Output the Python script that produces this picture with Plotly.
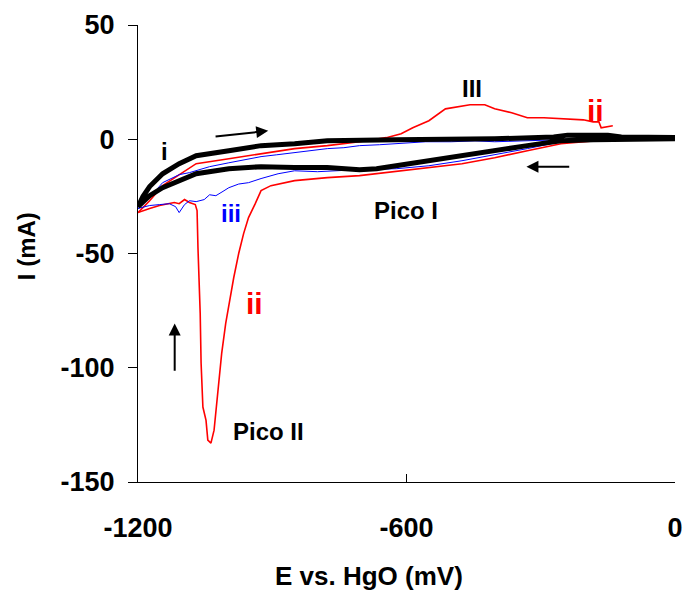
import plotly.graph_objects as go

# Cyclic voltammograms, potential E (mV vs. HgO) and current I (mA)
# Curve i (black): forward sweep -1200 -> 0, then return 0 -> -1200
e_i_fwd = [-1200, -1189, -1174, -1145, -1108, -1070, -997, -925, -850, -777,
           -623, -403, -271, -240, -150, -120, 0]
i_i_fwd = [-29.5, -25.1, -20.7, -15.1, -10.7, -7.2, -5.0, -2.8, -2.0, -0.7,
           -0.2, 0.2, 1.0, 1.8, 1.8, 1.0, 0.8]
e_i_rev = [0, -183, -255, -330, -403, -476, -550, -623, -667, -705, -777,
           -850, -925, -997, -1070, -1145, -1174, -1200]
i_i_rev = [0.2, -0.2, -0.7, -2.8, -5.0, -7.2, -9.4, -11.6, -12.9, -13.3, -12.4,
           -12.4, -12.0, -12.9, -15.1, -21.2, -24.7, -29.5]

# Curve ii (red)
e_ii_fwd = [-1200, -1174, -1145, -1070, -997, -925, -850, -777, -705, -645,
            -612, -586, -550, -513, -476, -458, -425, -403, -365, -330, -293,
            -255, -205, -183, -170, -165, -152, -139]
i_ii_fwd = [-32.1, -26.9, -20.3, -10.7, -8.5, -6.3, -4.1, -2.8, -1.1, 0.7,
            2.4, 5.0, 8.1, 13.3, 14.6, 15.1, 15.1, 13.3, 11.6, 9.4, 9.4,
            9.0, 8.5, 7.6, 7.6, 5.0, 5.5, 5.9]
e_ii_rev = [-2, -73, -183, -255, -330, -403, -476, -550, -623, -705, -777,
            -850, -903, -925, -938, -953, -964, -975, -986, -997, -1004,
            -1013, -1019, -1026, -1030, -1037, -1044, -1048, -1055, -1059,
            -1061, -1066, -1068, -1072, -1085, -1096, -1108, -1119, -1152,
            -1174, -1200]
i_ii_rev = [-0.2, -0.2, -0.7, -2.0, -5.0, -8.1, -10.7, -12.4, -14.2, -15.9,
            -16.8, -18.1, -20.3, -22.5, -28.2, -34.3, -41.3, -50.0, -60.5,
            -71.8, -80.6, -93.7, -105.5, -119.9, -127.3, -133.0, -131.7,
            -123.0, -117.2, -98.0, -76.2, -47.4, -31.2, -28.6, -27.7, -26.4,
            -28.2, -27.7, -29.0, -30.3, -32.1]

# Curve iii (blue)
e_iii_fwd = [-1200, -1174, -1145, -1108, -1085, -1070, -1040, -997, -960,
             -925, -890, -850, -815, -777, -740, -705, -660, -623, -557, -500,
             -447, -403, -330, -255, -205, -145, -95, -2]
i_iii_fwd = [-30.3, -25.5, -19.0, -15.5, -14.6, -13.8, -12.0, -10.3, -9.0,
             -7.6, -6.8, -5.9, -5.0, -4.1, -3.7, -2.8, -2.4, -2.0, -1.1, -1.1,
             -0.7, -1.1, -0.7, -0.2, 0.7, 1.5, 0.7, 0.2]
e_iii_rev = [-2, -183, -255, -330, -403, -476, -550, -623, -705, -755, -799,
             -850, -887, -925, -953, -975, -997, -1010, -1026, -1040, -1052,
             -1070, -1085, -1096, -1108, -1116, -1130, -1152, -1174, -1200]
i_iii_rev = [0.2, -0.2, -1.1, -4.1, -6.8, -9.4, -11.6, -12.9, -13.3, -13.8,
             -14.2, -13.8, -15.1, -17.2, -19.0, -19.6, -21.2, -22.8, -24.7,
             -24.3, -26.4, -27.3, -26.9, -28.6, -32.1, -29.5, -28.2, -28.6,
             -29.0, -30.3]

FONT = "Liberation Sans"

fig = go.Figure()
fig.add_trace(go.Scatter(x=e_ii_fwd + [None] + e_ii_rev,
                         y=i_ii_fwd + [None] + i_ii_rev,
                         mode="lines", line=dict(color="#ff0000", width=1.6)))
fig.add_trace(go.Scatter(x=e_iii_fwd + e_iii_rev, y=i_iii_fwd + i_iii_rev,
                         mode="lines", line=dict(color="#0000ff", width=1.0)))
fig.add_trace(go.Scatter(x=e_i_fwd + e_i_rev, y=i_i_fwd + i_i_rev,
                         mode="lines", line=dict(color="black", width=5)))


def label(x, y, text, color="black", size=24):
    fig.add_annotation(x=x, y=y, text=text, showarrow=False,
                       font=dict(family=FONT, size=size, color=color,
                                 weight="bold"))


def arrow(x0, y0, x1, y1):
    fig.add_annotation(x=x1, y=y1, ax=x0, ay=y0, xref="x", yref="y",
                       axref="x", ayref="y", text="", showarrow=True,
                       arrowhead=2, arrowsize=1.2, arrowwidth=2,
                       arrowcolor="black")


label(-1141, -5.5, "i")
label(-454, 22, "III")
label(-178, 12.4, "ii", "#ff0000", 30)
label(-993, -32.5, "iii", "#0000ff")
label(-940, -71.8, "ii", "#ff0000", 30)
label(-601, -31.2, "Pico I")
label(-909, -128, "Pico II")

arrow(-1030, 1.1, -909, 3.7)
arrow(-233, -12.0, -332, -12.0)
arrow(-1118, -102, -1118, -80.6)

# axis titles, placed relative to the plot domain
fig.add_annotation(xref="x domain", yref="y domain",
                   x=(372 - 138) / 545, y=-(576 - 482) / 458,
                   xanchor="center", yanchor="middle",
                   text="E vs. HgO (mV)", showarrow=False,
                   font=dict(family=FONT, size=26, weight="bold"))
fig.add_annotation(xref="x domain", yref="y domain",
                   x=-(138 - 25) / 545, y=(482 - 246) / 458,
                   xanchor="center", yanchor="middle",
                   text="I (mA)", textangle=-90, showarrow=False,
                   font=dict(family=FONT, size=24, weight="bold"))

fig.update_layout(
    width=693, height=593,
    margin=dict(l=138, r=10, t=24, b=111),
    paper_bgcolor="white", plot_bgcolor="white",
    showlegend=False,
    font=dict(family=FONT, color="black"),
)

x_ticks = [-1200, -600, 0]
x_tick_text = ["-1200", "-600", "0"]
y_ticks = [-150, -100, -50, 0, 50]
y_tick_text = ["-150", "-100", "-50", "0", "50"]

fig.update_xaxes(range=[-1200, 0], tickvals=x_ticks, ticktext=x_tick_text,
                 ticks="inside", ticklen=8, tickcolor="black",
                 showline=True, linecolor="black", linewidth=1,
                 showgrid=False, zeroline=False, ticklabelstandoff=22,
                 tickfont=dict(family=FONT, size=27, weight="bold"))
fig.update_yaxes(range=[-150, 50], tickvals=y_ticks, ticktext=y_tick_text,
                 ticks="outside", ticklen=9, tickcolor="black",
                 showline=True, linecolor="black", linewidth=1,
                 showgrid=False, zeroline=False, ticklabelstandoff=8,
                 tickfont=dict(family=FONT, size=27, weight="bold"))

fig.write_html("out.html")
